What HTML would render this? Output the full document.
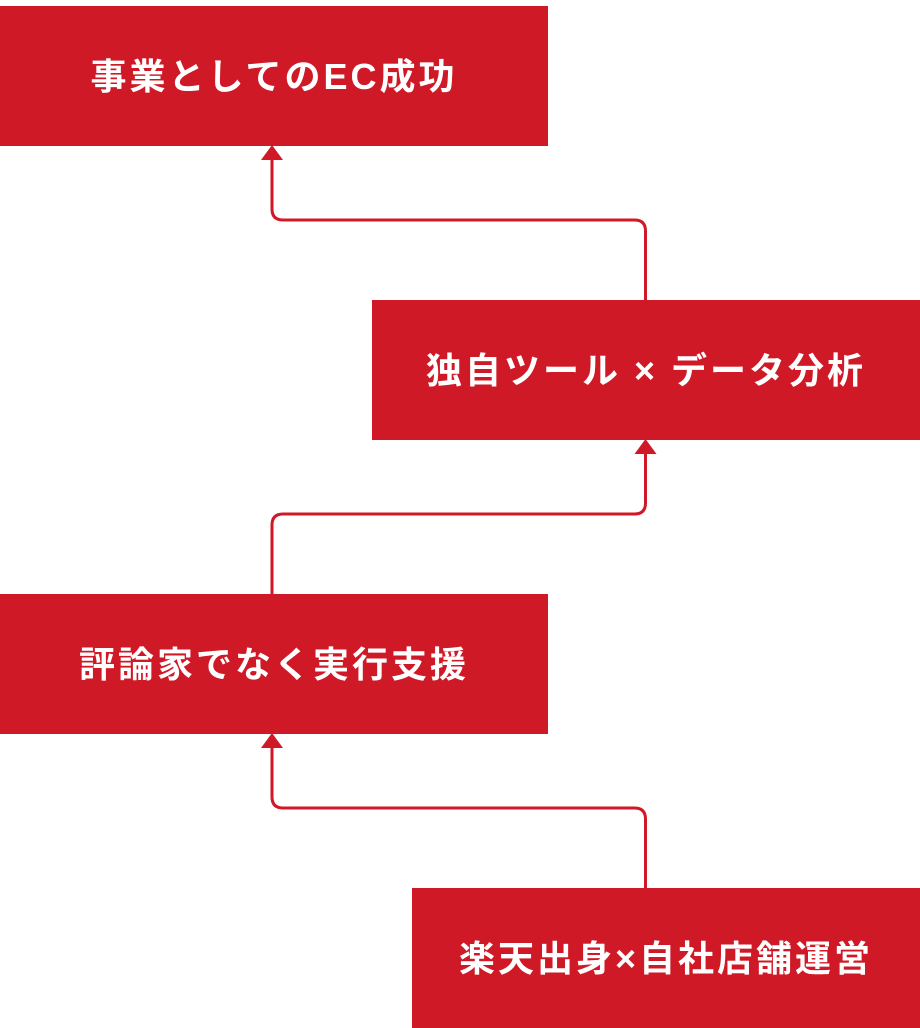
<!DOCTYPE html>
<html><head><meta charset="utf-8"><style>
html,body{margin:0;padding:0;background:#fff;}
body{width:920px;height:1028px;position:relative;overflow:hidden;font-family:"Liberation Sans","Noto Sans CJK JP",sans-serif;}
.b{position:absolute;height:140px;background:#d01926;color:#fff;font-weight:bold;font-size:36px;letter-spacing:3px;display:flex;align-items:center;justify-content:center;padding-bottom:4px;box-sizing:border-box;}
svg{position:absolute;left:0;top:0;}
</style></head><body>
<svg width="920" height="1028">
<g fill="none" stroke="#d01926" stroke-width="3">
<path d="M645.5 300 V231 Q645.5 220 634.5 220 H283 Q272 220 272 209 V158"/>
<path d="M272 594 V525 Q272 514 283 514 H634.5 Q645.5 514 645.5 503 V452"/>
<path d="M645.5 888 V819 Q645.5 808 634.5 808 H283 Q272 808 272 797 V746"/>
</g>
<g fill="#d01926">
<polygon points="272,145 261,160 283,160"/>
<polygon points="645.5,439 634.5,454 656.5,454"/>
<polygon points="272,733 261,748 283,748"/>
</g>
</svg>
<div class="b" style="left:0;top:6px;width:548px;">事業としてのEC成功</div>
<div class="b" style="left:372px;top:300px;width:548px;">独自ツール × データ分析</div>
<div class="b" style="left:0;top:594px;width:548px;">評論家でなく実行支援</div>
<div class="b" style="left:412px;top:888px;width:508px;">楽天出身×自社店舗運営</div>
</body></html>
